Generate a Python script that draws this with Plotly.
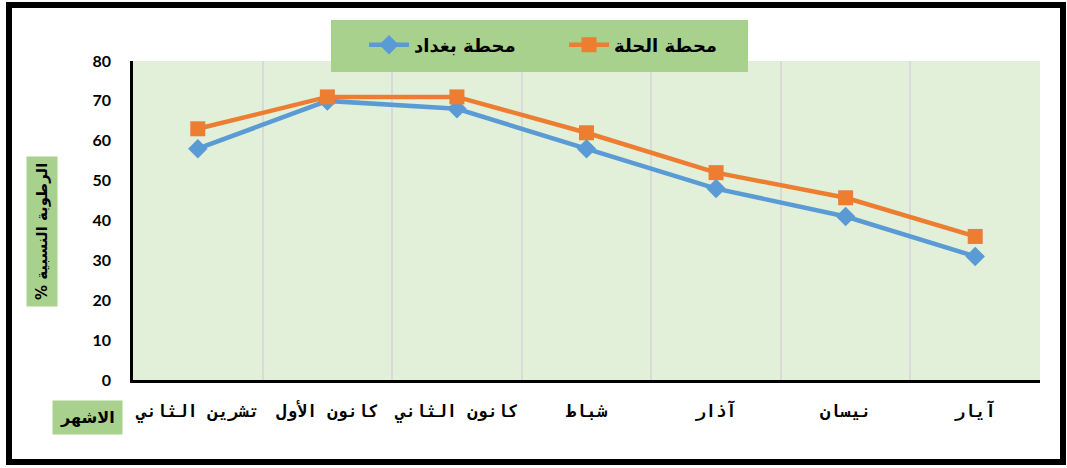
import plotly.graph_objects as go

months = ["تشرين الثاني", "كانون الأول", "كانون الثاني", "شباط", "آذار", "نيسان", "آيار"]
baghdad = [58, 70, 68, 58, 48, 41, 31]
hilla = [63, 71, 71, 62, 52, 45.7, 36]
y_ticks = [0, 10, 20, 30, 40, 50, 60, 70, 80]

W, H = 1067, 468
L, R, T, B = 133, 27, 61, 88
PW, PH = W - L - R, H - T - B


def px(xp):
    return (xp - L) / PW


def py(yp):
    return 1 - (yp - T) / PH


fig = go.Figure()
fig.add_trace(go.Scatter(
    x=months, y=baghdad, name="محطة بغداد", mode="lines+markers",
    line=dict(color="#5b9bd5", width=4.5),
    marker=dict(symbol="diamond", size=15, color="#5b9bd5"),
))
fig.add_trace(go.Scatter(
    x=months, y=hilla, name="محطة الحلة", mode="lines+markers",
    line=dict(color="#ed7d31", width=4.5),
    marker=dict(symbol="square", size=15, color="#ed7d31"),
))

arabic_bold = "DejaVu Sans"

fig.update_layout(
    width=W, height=H,
    margin=dict(l=L, r=R, t=T, b=B, autoexpand=False),
    paper_bgcolor="white",
    plot_bgcolor="#e2efd9",
    showlegend=True,
    legend=dict(
        orientation="h",
        xref="paper", yref="paper",
        x=px(364), y=py(45), xanchor="left", yanchor="middle",
        bgcolor="rgba(0,0,0,0)",
        font=dict(family=arabic_bold, size=18, color="black", weight="bold"),
        itemwidth=40,
        entrywidth=145,
        traceorder="normal",
    ),
    xaxis=dict(
        type="category",
        range=[-0.5, len(months) - 0.5],
        tickson="boundaries",
        showgrid=True, gridcolor="#d9d9d9", gridwidth=2,
        showline=True, linecolor="black", linewidth=2.5,
        ticks="", tickangle=0,
        ticklabelstandoff=14,
        tickfont=dict(family="DejaVu Sans Mono", size=17, color="black", weight="bold"),
        zeroline=False, fixedrange=True,
    ),
    yaxis=dict(
        range=[0, 80],
        tickvals=y_ticks,
        showgrid=False,
        showline=True, linecolor="black", linewidth=2.5,
        ticks="", ticklabelstandoff=16,
        tickfont=dict(family="Lato", size=16, color="black", weight="bold"),
        zeroline=False, fixedrange=True,
    ),
    shapes=[
        # legend box
        dict(type="rect", xref="paper", yref="paper",
             x0=px(331), x1=px(748), y0=py(72), y1=py(20),
             fillcolor="#a9d18e", line=dict(width=0), layer="above"),
        # outer frame
        dict(type="rect", xref="paper", yref="paper",
             x0=px(9), x1=px(1063), y0=py(462), y1=py(5),
             fillcolor="rgba(0,0,0,0)", line=dict(color="black", width=6), layer="above"),
    ],
    annotations=[
        dict(text="% الرطوبة النسبية", textangle=-90,
             xref="paper", yref="paper",
             x=px(42), y=py(232),
             xanchor="center", yanchor="middle", showarrow=False,
             font=dict(family=arabic_bold, size=15, color="black", weight="bold"),
             bgcolor="#a9d18e", borderpad=6),
        dict(text="الاشهر",
             xref="paper", yref="paper",
             x=px(87), y=py(417),
             xanchor="center", yanchor="middle", showarrow=False,
             font=dict(family=arabic_bold, size=16, color="black", weight="bold"),
             bgcolor="#a9d18e", borderpad=7),
    ],
)

fig.write_html("out.html", config={"displayModeBar": False},
               post_script="document.body.style.margin='0';")
